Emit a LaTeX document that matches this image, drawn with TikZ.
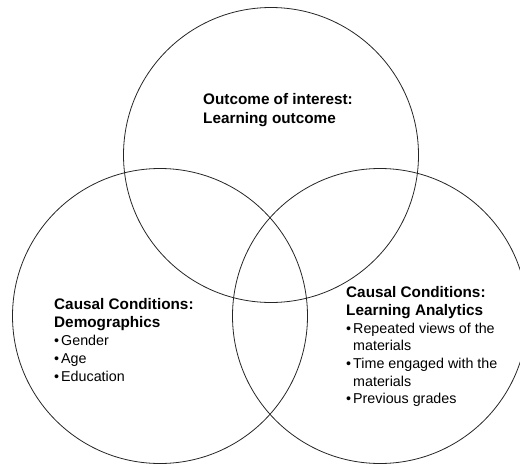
\documentclass[tikz,border=0pt]{standalone}
\usepackage{fontspec}
\setmainfont{Liberation Sans}
\tikzset{
  ring/.style={circle, draw=black!85, line width=.8pt, minimum size=295pt, inner sep=0pt},
  headline/.style={anchor=base west, inner sep=0pt, font=\bfseries\fontsize{15.3}{18}\selectfont},
  itemline/.style={anchor=base west, inner sep=0pt, font=\fontsize{14.3}{18}\selectfont},
}
\newcommand{\bul}{\makebox[7pt][l]{\textbullet}}
\begin{document}
\begin{tikzpicture}[x=1pt,y=-1pt]
\useasboundingbox (0,0) rectangle (520,464);
\node[ring] (outcome) at (271,155) {};
\node[ring] (demo) at (160,316) {};
\node[ring] (analytics) at (380,316) {};

\node[headline] (outA) at (203,104) {Outcome of interest:};
\node[headline] (outB) at (203,123) {Learning outcome};

\node[headline] (demA) at (54,309) {Causal Conditions:};
\node[headline] (demB) at (54,327) {Demographics};
\node[itemline] (demC) at (54,345) {\bul Gender};
\node[itemline] (demD) at (54,363) {\bul Age};
\node[itemline] (demE) at (54,381) {\bul Education};

\node[headline] (anaA) at (346,297) {Causal Conditions:};
\node[headline] (anaB) at (346,315) {Learning Analytics};
\node[itemline] (anaC) at (346,333) {\bul Repeated views of the};
\node[itemline] (anaD) at (353,350) {materials};
\node[itemline] (anaE) at (346,368) {\bul Time engaged with the};
\node[itemline] (anaF) at (353,386) {materials};
\node[itemline] (anaG) at (346,403) {\bul Previous grades};

\end{tikzpicture}
\end{document}
